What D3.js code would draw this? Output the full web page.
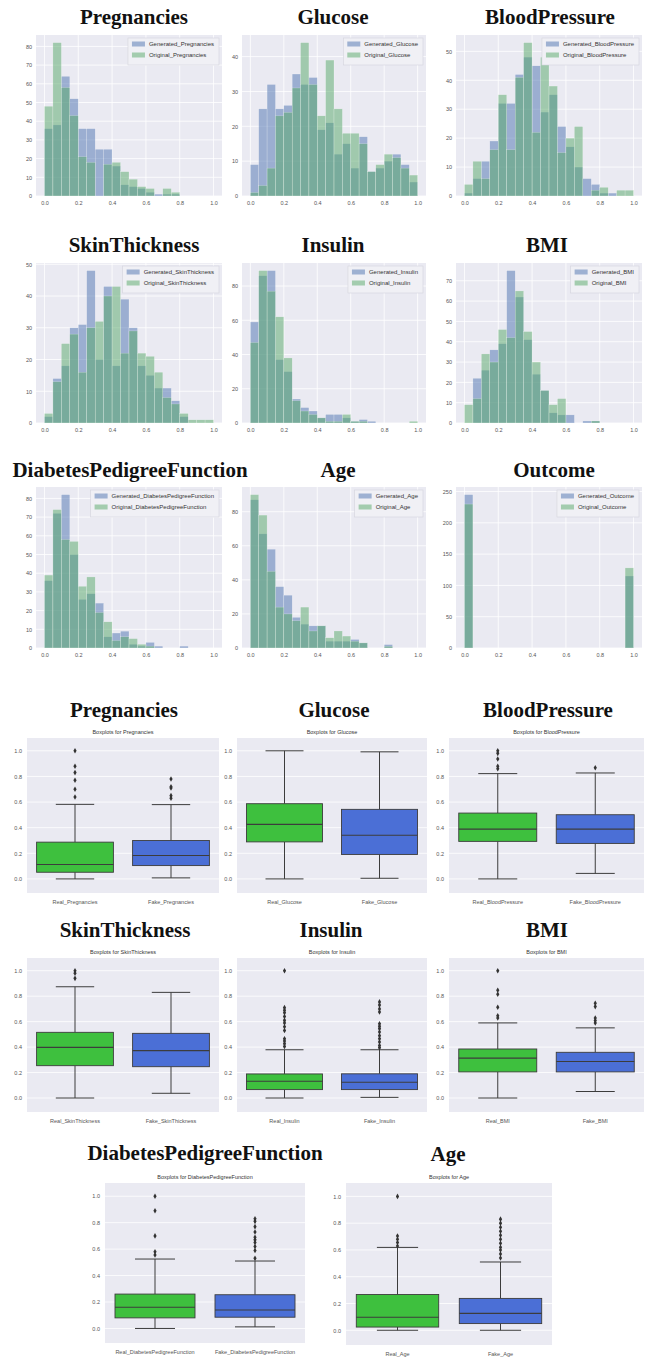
<!DOCTYPE html>
<html><head><meta charset="utf-8">
<script src="https://cdn.jsdelivr.net/npm/d3@7"></script>
<style>body{margin:0;background:#fff}svg{display:block}</style>
</head><body>
<script>
// ---------------- DATA ----------------
const histFeatures = ["Pregnancies","Glucose","BloodPressure","SkinThickness","Insulin","BMI","DiabetesPedigreeFunction","Age","Outcome"];
const binStarts = [0,0.05,0.1,0.15,0.2,0.25,0.3,0.35,0.4,0.45,0.5,0.55,0.6,0.65,0.7,0.75,0.8,0.85,0.9,0.95];
const binWidth = 0.05;
const xTickValues = [0,0.2,0.4,0.6,0.8,1.0];

const genPregnancies   = [36,38,64,52,36,36,25,25,16,6,5,4,2,1,1,1,0,0,0,0];
const origPregnancies  = [48,82,58,43,21,18,0,17,18,13,9,5,4,0,4,2,0,0,0,0];
const genGlucose       = [9,25,32,25,26,35,32,34,19,21,12,15,8,17,7,8,10,12,9,4];
const origGlucose      = [1,3,8,23,24,31,44,32,23,39,25,18,18,15,7,9,12,11,8,6];
const genBloodPressure = [1,6,12,19,32,32,42,48,45,29,35,24,17,10,6,4,1,1,0,0];
const origBloodPressure= [4,12,6,16,35,16,41,53,22,48,38,15,20,24,0,2,3,0,2,2];
const genSkinThickness = [2,14,18,30,31,48,20,43,18,39,30,18,15,11,11,7,2,0,0,0];
const origSkinThickness= [3,13,25,28,16,30,32,40,43,22,29,22,21,16,8,6,3,1,1,1];
const genInsulin       = [59,86,89,37,30,14,9,7,3,5,5,3,1,2,1,0,0,0,0,0];
const origInsulin      = [47,89,77,62,38,13,7,5,3,1,1,5,1,1,0,0,0,0,0,1];
const genBMI           = [0,22,26,36,39,75,62,41,24,16,5,4,4,0,1,1,0,0,0,0];
const origBMI          = [9,12,34,30,46,42,65,45,30,16,9,12,0,0,0,1,0,0,0,0];
const genDPF           = [36,72,82,50,26,29,24,6,8,9,2,1,3,1,0,0,1,0,0,0];
const origDPF          = [39,74,58,57,33,38,19,14,4,6,5,2,1,0,0,0,0,0,0,0];
const genAge           = [87,67,58,36,31,18,14,13,13,4,4,4,5,3,0,0,2,0,0,0];
const origAge          = [90,78,45,24,20,16,24,10,13,6,10,7,4,3,0,0,1,0,0,0];
const genOutcome       = [245,0,0,0,0,0,0,0,0,0,0,0,0,0,0,0,0,0,0,115];
const origOutcome      = [230,0,0,0,0,0,0,0,0,0,0,0,0,0,0,0,0,0,0,128];

const histGen  = [genPregnancies,genGlucose,genBloodPressure,genSkinThickness,genInsulin,genBMI,genDPF,genAge,genOutcome];
const histOrig = [origPregnancies,origGlucose,origBloodPressure,origSkinThickness,origInsulin,origBMI,origDPF,origAge,origOutcome];
const histYTicks = [
  [0,10,20,30,40,50,60,70,80],
  [0,10,20,30,40],
  [0,10,20,30,40,50],
  [0,10,20,30,40,50],
  [0,20,40,60,80],
  [0,10,20,30,40,50,60,70],
  [0,10,20,30,40,50,60,70,80],
  [0,20,40,60,80],
  [0,50,100,150,200,250]
];

const boxFeatures = ["Pregnancies","Glucose","BloodPressure","SkinThickness","Insulin","BMI","DiabetesPedigreeFunction","Age"];
// [lower whisker, Q1, median, Q3, upper whisker]
const boxReal = [
  [0,0.052,0.112,0.287,0.582],
  [0,0.289,0.426,0.587,1.0],
  [0,0.293,0.389,0.514,0.822],
  [0,0.254,0.398,0.516,0.874],
  [0,0.066,0.132,0.189,0.379],
  [0,0.205,0.313,0.385,0.59],
  [0,0.08,0.16,0.26,0.525],
  [0,0.024,0.097,0.267,0.619]
];
const boxFake = [
  [0.008,0.104,0.183,0.30,0.58],
  [0.005,0.191,0.341,0.543,0.992],
  [0.043,0.277,0.389,0.501,0.827],
  [0.037,0.246,0.372,0.508,0.83],
  [0.005,0.066,0.124,0.19,0.379],
  [0.051,0.205,0.287,0.359,0.551],
  [0.012,0.085,0.14,0.255,0.51],
  [0.0,0.05,0.126,0.238,0.51]
];
const boxRealOut = [
  [0.64,0.70,0.77,0.83,0.88,1.0],
  [],
  [0.86,0.88,0.936,0.98,1.0],
  [0.94,0.98,1.0],
  [0.405,0.426,0.447,0.466,0.53,0.56,0.59,0.61,0.64,0.67,0.69,0.71,1.0],
  [0.628,0.646,0.713,0.815,0.846,1.0],
  [0.555,0.58,0.70,0.89,1.0],
  [0.63,0.655,0.68,0.704,1.0]
];
const boxFakeOut = [
  [0.63,0.65,0.71,0.72,0.78],
  [],
  [0.868],
  [],
  [0.395,0.413,0.44,0.466,0.49,0.518,0.545,0.563,0.584,0.676,0.70,0.73,0.755],
  [0.59,0.608,0.628,0.718,0.744],
  [0.53,0.59,0.62,0.65,0.67,0.69,0.73,0.77,0.81,0.83],
  [0.54,0.57,0.6,0.62,0.65,0.68,0.71,0.74,0.77,0.8,0.83]
];
const boxYTicks = [0,0.2,0.4,0.6,0.8,1.0];

// ---------------- LAYOUT ----------------
const histColX = [[36,222],[242,426],[456,642]];
const histRowY = [[35,196],[263,423],[487,648]];
const histTitleX = [134,333,550,134,333,547,130,338,554];
const histTitleY = [24,252,477];

const boxPanelX = [[27,219],[237,427],[449,644],[27,219],[237,427],[449,644],[105,305],[346,552]];
const boxPanelY = [[738,893],[738,893],[738,893],[958,1112],[958,1112],[958,1112],[1183,1343],[1183,1345]];
const boxTitleX = [124,334,548,125,331,547,205,448];
const boxTitleY = [717,717,717,937,937,937,1160,1161];

const BG = "#EAEAF2", BLUE = "#4C72B0", GREEN = "#55A868";
const TICKC = "#555", TFONT = "Liberation Sans, Arial, sans-serif";
const TITLEFONT = "Liberation Serif, Times New Roman, serif";

const svg = d3.select("body").append("svg").attr("width",648).attr("height",1360);
svg.append("rect").attr("width",648).attr("height",1360).attr("fill","#fff");

function drawHist(i){
  const name = histFeatures[i], gen = histGen[i], orig = histOrig[i];
  const col = i%3, row = Math.floor(i/3);
  const [x0,x1] = histColX[col], [y0,y1] = histRowY[row];
  const g = svg.append("g");
  const x = d3.scaleLinear().domain([-0.05,1.05]).range([x0,x1]);
  const ymax = d3.max(gen.concat(orig))*1.05;
  const y = d3.scaleLinear().domain([0,ymax]).range([y1,y0]);
  g.append("rect").attr("x",x0).attr("y",y0).attr("width",x1-x0).attr("height",y1-y0).attr("fill",BG);
  // grid
  g.selectAll(".gx").data(xTickValues).join("line")
    .attr("x1",d=>x(d)).attr("x2",d=>x(d)).attr("y1",y0).attr("y2",y1)
    .attr("stroke","#fff").attr("stroke-width",0.8);
  g.selectAll(".gy").data(histYTicks[i]).join("line")
    .attr("x1",x0).attr("x2",x1).attr("y1",d=>y(d)).attr("y2",d=>y(d))
    .attr("stroke","#fff").attr("stroke-width",0.8);
  // bars
  [[gen,BLUE],[orig,GREEN]].forEach(([vals,c])=>{
    g.append("g").selectAll("rect").data(vals).join("rect")
      .attr("x",(d,j)=>x(binStarts[j]))
      .attr("width",(d,j)=>x(binStarts[j]+binWidth)-x(binStarts[j]))
      .attr("y",d=>y(d)).attr("height",d=>y1-y(d))
      .attr("fill",c).attr("fill-opacity",0.5)
      .attr("stroke","#fff").attr("stroke-opacity",0.5).attr("stroke-width",0.4);
  });
  // axes
  const ax = g.append("g").attr("transform",`translate(0,${y1})`)
    .call(d3.axisBottom(x).tickValues(xTickValues).tickFormat(d3.format(".1f")).tickSize(0).tickPadding(5));
  const ay = g.append("g").attr("transform",`translate(${x0},0)`)
    .call(d3.axisLeft(y).tickValues(histYTicks[i]).tickFormat(d3.format("d")).tickSize(0).tickPadding(4));
  [ax,ay].forEach(a=>{a.select(".domain").remove();
    a.selectAll("text").attr("fill",TICKC).attr("font-size","5.5px").attr("font-family",TFONT);});
  // legend
  const lg = g.append("g");
  const labels = ["Generated_"+name, "Original_"+name];
  const lbox = lg.append("rect");
  const texts = labels.map((t,k)=>lg.append("text").text(t).attr("y",y0+11+k*11)
      .attr("font-size","6px").attr("font-family",TFONT).attr("fill","#333"));
  const tw = d3.max(texts.map(t=>t.node().getComputedTextLength()));
  const lw = tw + 26, lx = x1 - 3 - lw;
  lbox.attr("x",lx).attr("y",y0+3).attr("width",lw).attr("height",27)
    .attr("fill","#F0F0F5").attr("stroke","#d4d4dc").attr("stroke-width",0.6);
  texts.forEach(t=>t.attr("x",lx+21));
  [BLUE,GREEN].forEach((c,k)=>lg.append("rect").attr("x",lx+4).attr("y",y0+6.5+k*11)
      .attr("width",13).attr("height",5).attr("fill",c).attr("fill-opacity",0.5));
  // title
  svg.append("text").text(name).attr("x",histTitleX[i]).attr("y",histTitleY[row])
    .attr("text-anchor","middle").attr("font-family",TITLEFONT).attr("font-weight","bold")
    .attr("font-size","21px").attr("fill","#111");
}
histFeatures.forEach((d,i)=>drawHist(i));

function drawBox(i){
  const name = boxFeatures[i];
  const [x0,x1] = boxPanelX[i], [y0,y1] = boxPanelY[i];
  const g = svg.append("g");
  const x = d3.scaleLinear().domain([-0.5,1.5]).range([x0,x1]);
  const y = d3.scaleLinear().domain([-0.11,1.10]).range([y1,y0]);
  g.append("rect").attr("x",x0).attr("y",y0).attr("width",x1-x0).attr("height",y1-y0).attr("fill",BG);
  g.selectAll(".gy").data(boxYTicks).join("line")
    .attr("x1",x0).attr("x2",x1).attr("y1",d=>y(d)).attr("y2",d=>y(d))
    .attr("stroke","#fff").attr("stroke-width",0.8);
  const groups = [
    {pos:0, s:boxReal[i], out:boxRealOut[i], c:"#3EC03E", label:"Real_"+name},
    {pos:1, s:boxFake[i], out:boxFakeOut[i], c:"#4B6FD6", label:"Fake_"+name}
  ];
  const LC = "#3c3c3c";
  groups.forEach(gr=>{
    const cx = x(gr.pos), bw = x(gr.pos+0.4)-x(gr.pos-0.4), cw = bw/2;
    const [lo,q1,md,q3,hi] = gr.s;
    g.append("line").attr("x1",cx).attr("x2",cx).attr("y1",y(lo)).attr("y2",y(q1)).attr("stroke",LC).attr("stroke-width",1);
    g.append("line").attr("x1",cx).attr("x2",cx).attr("y1",y(q3)).attr("y2",y(hi)).attr("stroke",LC).attr("stroke-width",1);
    [lo,hi].forEach(v=>g.append("line").attr("x1",cx-cw/2).attr("x2",cx+cw/2).attr("y1",y(v)).attr("y2",y(v)).attr("stroke",LC).attr("stroke-width",1));
    g.append("rect").attr("x",cx-bw/2).attr("width",bw).attr("y",y(q3)).attr("height",y(q1)-y(q3))
      .attr("fill",gr.c).attr("stroke",LC).attr("stroke-width",0.9);
    g.append("line").attr("x1",cx-bw/2).attr("x2",cx+bw/2).attr("y1",y(md)).attr("y2",y(md)).attr("stroke",LC).attr("stroke-width",1.1);
    g.selectAll(null).data(gr.out).join("path")
      .attr("d",d3.symbol(d3.symbolDiamond,9))
      .attr("transform",d=>`translate(${cx},${y(d)})`).attr("fill","#333");
    g.append("text").text(gr.label).attr("x",cx).attr("y",y1+11).attr("text-anchor","middle")
      .attr("font-size","5.5px").attr("font-family",TFONT).attr("fill",TICKC);
  });
  const ay = g.append("g").attr("transform",`translate(${x0},0)`)
    .call(d3.axisLeft(y).tickValues(boxYTicks).tickFormat(d3.format(".1f")).tickSize(0).tickPadding(5));
  ay.select(".domain").remove();
  ay.selectAll("text").attr("fill",TICKC).attr("font-size","5.5px").attr("font-family",TFONT);
  g.append("text").text("Boxplots for "+name).attr("x",(x0+x1)/2).attr("y",y0-4).attr("text-anchor","middle")
    .attr("font-size","5.5px").attr("font-family",TFONT).attr("fill","#333");
  svg.append("text").text(name).attr("x",boxTitleX[i]).attr("y",boxTitleY[i])
    .attr("text-anchor","middle").attr("font-family",TITLEFONT).attr("font-weight","bold")
    .attr("font-size","21px").attr("fill","#111");
}
boxFeatures.forEach((d,i)=>drawBox(i));
</script>
</body></html>
